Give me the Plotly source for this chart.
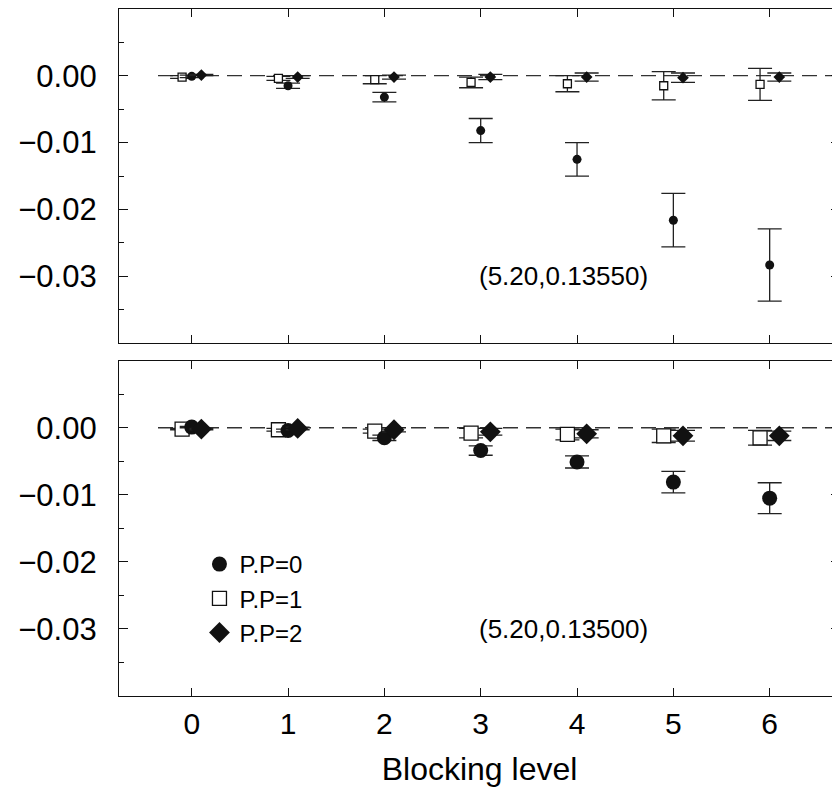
import numpy as np
import plotly.graph_objects as go

# ---------------- data ----------------
levels = [0, 1, 2, 3, 4, 5, 6]

# top panel (5.20, 0.13550)
pp0_top = [-0.0001, -0.0015, -0.0032, -0.0082, -0.0125, -0.0216, -0.0283]
pp0_top_err = [0.0002, 0.0004, 0.0007, 0.0018, 0.0025, 0.0040, 0.0054]
pp1_top = [-0.0002, -0.0004, -0.0006, -0.0010, -0.0012, -0.0015, -0.0013]
pp1_top_err = [0.0002, 0.0003, 0.0006, 0.0008, 0.0012, 0.0021, 0.0024]
pp2_top = [0.0001, -0.0002, -0.0002, -0.0002, -0.0002, -0.0003, -0.0002]
pp2_top_err = [0.0001, 0.0002, 0.0003, 0.0004, 0.0006, 0.0007, 0.0006]

# bottom panel (5.20, 0.13500)
pp0_bot = [0.0001, -0.0004, -0.0015, -0.0034, -0.0051, -0.0081, -0.0105]
pp0_bot_err = [0.0001, 0.0002, 0.0004, 0.0007, 0.0009, 0.0016, 0.0023]
pp1_bot = [-0.0002, -0.0003, -0.0005, -0.0008, -0.0010, -0.0012, -0.0015]
pp1_bot_err = [0.0001, 0.0002, 0.0003, 0.0007, 0.0008, 0.0010, 0.0011]
pp2_bot = [-0.0002, -0.0001, -0.0003, -0.0006, -0.0009, -0.0012, -0.0012]
pp2_bot_err = [0.0001, 0.0002, 0.0003, 0.0005, 0.0006, 0.0008, 0.0007]

series_names = ["P.P=0", "P.P=1", "P.P=2"]
panel_labels = ["(5.20,0.13550)", "(5.20,0.13500)"]
y_tickvals = [-0.03, -0.02, -0.01, 0.00]
y_minor_vals = [-0.035, -0.025, -0.015, -0.005, 0.005]
x_title = "Blocking level"

# ---------------- styling ----------------
FONT = "Liberation Sans, Arial, Helvetica, sans-serif"
INK = "#111"
x_offsets = [0.0, -0.1, 0.1]
x_range = [-0.755, 6.73]
y_range = [-0.04, 0.01]
zero_line_start = -0.35

# the page body adds an 8px margin, so the figure is sized to fit the window
W, H = 832, 783

fig = go.Figure()

panels = [
    ("x", "y", [pp0_top, pp1_top, pp2_top], [pp0_top_err, pp1_top_err, pp2_top_err], [9, 8, 9], False),
    ("x2", "y2", [pp0_bot, pp1_bot, pp2_bot], [pp0_bot_err, pp1_bot_err, pp2_bot_err], [15, 14, 16], True),
]

styles = [
    dict(symbol="circle", color=INK, line=dict(width=0, color=INK)),
    dict(symbol="square", color="white", line=dict(width=1.3, color=INK)),
    dict(symbol="diamond", color=INK, line=dict(width=0, color=INK)),
]

for xa, ya, vals, errs, sizes, legend in panels:
    fig.add_trace(go.Scatter(
        x=[zero_line_start, x_range[1] + 0.1], y=[0, 0], xaxis=xa, yaxis=ya,
        mode="lines", line=dict(color="#333", width=1.3, dash="15px,8px"),
        showlegend=False, hoverinfo="skip"))
    for i in [1, 0, 2]:
        fig.add_trace(go.Scatter(
            x=np.array(levels) + x_offsets[i], y=vals[i], xaxis=xa, yaxis=ya,
            mode="markers", name=series_names[i], legendrank=i + 1,
            marker=dict(size=sizes[i], **styles[i]),
            error_y=dict(type="data", array=errs[i], visible=True,
                         color="#222", thickness=1.3, width=12),
            showlegend=legend))

for ya in ["y3", "y4"]:
    fig.add_trace(go.Scatter(x=[None], y=[None], xaxis="x" if ya == "y3" else "x2",
                             yaxis=ya, showlegend=False, hoverinfo="skip"))

top_dom = [1 - 335.3 / H, 1 - 0.8 / H]
bot_dom = [1 - 688 / H, 1 - 352.7 / H]

xcommon = dict(range=x_range, tickvals=levels, ticks="inside", ticklen=8, tickwidth=1.3,
               tickcolor=INK, showline=True, linecolor=INK, linewidth=1.3, mirror="ticks",
               showgrid=False, zeroline=False, automargin=False,
               tickfont=dict(family=FONT, size=30, color="black"))
ycommon = dict(range=y_range, tickvals=y_tickvals, tickformat=".2f", ticks="inside",
               ticklen=9, tickwidth=1.3, tickcolor=INK, showline=True, linecolor=INK,
               linewidth=1.3, showgrid=False, zeroline=False, automargin=False,
               tickfont=dict(family=FONT, size=31, color="black"), ticklabelstandoff=15,
               minor=dict(tickvals=y_minor_vals, ticks="inside", ticklen=4.5,
                          tickwidth=1.3, tickcolor=INK, showgrid=False))
yright = dict(range=y_range, tickvals=y_tickvals, ticks="inside", ticklen=9, tickwidth=1.3,
              tickcolor=INK, showline=False, showgrid=False, zeroline=False,
              showticklabels=False, side="right",
              minor=dict(tickvals=y_minor_vals, ticks="inside", ticklen=4.5,
                         tickwidth=1.3, tickcolor=INK, showgrid=False))

fig.update_layout(
    width=W, height=H,
    margin=dict(l=111, r=0, t=0, b=0),
    paper_bgcolor="white", plot_bgcolor="white",
    font=dict(family=FONT, color="black"),
    xaxis=dict(**xcommon, anchor="y", showticklabels=False),
    yaxis=dict(**ycommon, domain=top_dom, anchor="x"),
    xaxis2=dict(**xcommon, anchor="y2", ticklabelstandoff=1,
                title=dict(text=x_title, font=dict(family=FONT, size=32, color="black"),
                           standoff=18)),
    yaxis2=dict(**ycommon, domain=bot_dom, anchor="x2"),
    yaxis3=dict(**yright, overlaying="y", anchor="x"),
    yaxis4=dict(**yright, overlaying="y2", anchor="x2"),
    legend=dict(x=0.1116, y=1 - 534 / H, xanchor="left", yanchor="top",
                font=dict(family=FONT, size=24, color="black"),
                bgcolor="rgba(0,0,0,0)", borderwidth=0, tracegroupgap=0),
    showlegend=True,
    annotations=[
        dict(text=panel_labels[0], x=3.86, y=-0.03, xref="x", yref="y", showarrow=False,
             font=dict(family=FONT, size=26, color="black")),
        dict(text=panel_labels[1], x=3.86, y=-0.03, xref="x2", yref="y2", showarrow=False,
             font=dict(family=FONT, size=26, color="black")),
    ],
)

fig.write_html("out.html", config=dict(displayModeBar=False))
